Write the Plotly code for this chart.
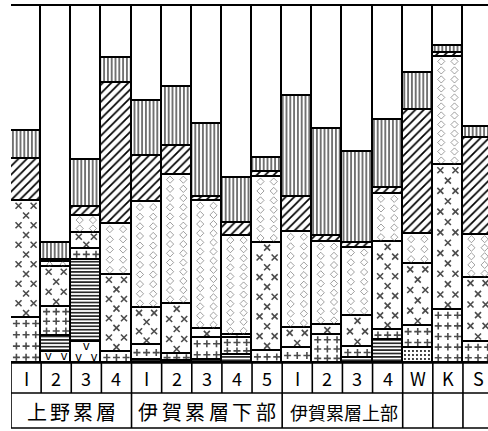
import plotly.graph_objects as go

# Sample columns and the formation groups that label them
sample_labels = ["I", "2", "3", "4", "I", "2", "3", "4", "5", "I", "2", "3", "4", "W", "K", "S"]
formation_names = ["上野累層", "伊賀累層下部", "伊賀累層上部", "", "", ""]
formation_sizes = [4, 5, 4, 1, 1, 1]

# Composition of each column (%), listed bottom to top
v_layer =        [0.0, 3.1, 5.9, 0.0, 0.0, 0.0, 0.0, 0.0, 0.0, 0.0, 0.0, 0.0, 0.0, 0.0, 0.0, 0.0]
dot_layer =      [0.0, 0.0, 0.0, 0.0, 0.0, 0.0, 0.0, 0.0, 0.0, 0.0, 0.0, 0.0, 0.0, 4.2, 0.0, 0.0]
wavy_layer =     [0.0, 4.5, 22.9, 0.0, 0.8, 0.5, 0.8, 2.2, 0.0, 0.0, 0.0, 1.4, 6.4, 0.0, 0.0, 0.0]
plus_layer =     [12.6, 8.1, 3.1, 3.1, 4.2, 2.0, 6.1, 4.7, 3.4, 4.2, 7.8, 3.1, 2.8, 6.1, 14.8, 5.9]
cross_layer =    [32.7, 11.2, 4.5, 21.5, 10.3, 14.0, 2.5, 0.8, 30.2, 5.6, 2.8, 8.7, 24.6, 17.3, 40.5, 17.9]
chevron_layer =  [0.0, 1.4, 4.7, 14.2, 29.6, 36.0, 35.8, 27.9, 18.4, 26.8, 23.2, 19.0, 13.4, 8.4, 30.2, 12.0]
diagonal_layer = [11.7, 0.6, 2.5, 39.4, 12.8, 8.1, 1.1, 3.6, 1.4, 9.8, 1.7, 1.4, 1.7, 34.6, 1.1, 27.1]
vertical_layer = [7.8, 4.7, 13.1, 7.0, 15.4, 16.5, 20.4, 12.6, 3.9, 28.2, 29.9, 25.4, 19.0, 10.3, 2.0, 3.1]
blank_layer =    [35.2, 66.4, 43.3, 14.8, 26.9, 22.9, 33.3, 48.2, 42.7, 25.4, 34.6, 41.0, 32.1, 19.1, 11.4, 34.0]

# ---- geometry -------------------------------------------------------------
W, H = 488, 431
M_L, M_R, M_T, M_B = 11, 0, 5, 68
PLOT_W = W - M_L - M_R
PLOT_H = H - M_T - M_B
COL_PX = 30.13                      # width of one column in pixels
PX_PER_PCT = PLOT_H / 100.0
X_MAX = 0.5 + PLOT_W / COL_PX
FONT = "Noto Sans CJK JP"
INK = "black"
LW = 1.6

n = len(sample_labels)
xs = list(range(1, n + 1))

layers = [
    ("v", v_layer), ("dot", dot_layer), ("wavy", wavy_layer), ("plus", plus_layer),
    ("cross", cross_layer), ("chevron", chevron_layer), ("diagonal", diagonal_layer),
    ("vertical", vertical_layer), ("blank", blank_layer),
]

bar_patterns = {
    "dot": dict(shape=".", size=4, solidity=0.18),
    "wavy": dict(shape="-", size=3.4, solidity=0.42),
    "diagonal": dict(shape="/", size=6, solidity=0.28),
    "vertical": dict(shape="|", size=3.8, solidity=0.28),
}

fig = go.Figure()

bases = {}
running = [0.0] * n
for name, vals in layers:
    bases[name] = running[:]
    pat = bar_patterns.get(name)
    marker = dict(color="white", line=dict(color=INK, width=LW))
    if pat:
        marker["pattern"] = dict(fgcolor=INK, bgcolor="white", fillmode="replace", **pat)
    fig.add_trace(go.Bar(x=xs, y=vals, width=1.0, marker=marker,
                         hoverinfo="skip", showlegend=False))
    running = [r + v for r, v in zip(running, vals)]


def scatter_marks(name, pitch_pct, cols_a, cols_b, size_px):
    """Spread symbols over every segment of one layer, rows alternating column sets."""
    px, py, ps = [], [], []
    for i, (v, b) in enumerate(zip(dict(layers)[name], bases[name])):
        if v <= 0:
            continue
        rows = max(1, round(v / pitch_pct))
        step = v / rows
        s = max(2.0, min(size_px, step * PX_PER_PCT * 0.8))
        for k in range(rows):
            for c in (cols_a if k % 2 == 0 else cols_b):
                px.append(xs[i] + c)
                py.append(b + (k + 0.5) * step)
                ps.append(s)
    return px, py, ps


# "+" symbols
x_, y_, s_ = scatter_marks("plus", 2.9, [-0.32, 0.0, 0.32], [-0.32, 0.0, 0.32], 5)
fig.add_trace(go.Scatter(x=x_, y=y_, mode="markers", hoverinfo="skip", showlegend=False,
                         marker=dict(symbol="cross-thin", size=s_, line=dict(color=INK, width=1.6))))

# "×" symbols in a staggered arrangement
x_, y_, s_ = scatter_marks("cross", 2.8, [0.0], [-0.25, 0.25], 6)
fig.add_trace(go.Scatter(x=x_, y=y_, mode="markers", hoverinfo="skip", showlegend=False,
                         marker=dict(symbol="x-thin", size=s_, line=dict(color=INK, width=1.6))))

# small open diamonds
x_, y_, s_ = scatter_marks("chevron", 2.6, [-0.22, 0.22], [-0.22, 0.22], 5.5)
fig.add_trace(go.Scatter(x=x_, y=y_, mode="markers", hoverinfo="skip", showlegend=False,
                         marker=dict(symbol="diamond-open", size=s_, color="#555",
                                     line=dict(width=0.8))))

# "v" marks, staggered so neighbouring rows do not collide
x_, y_, s_ = scatter_marks("v", 2.9, [-0.26, 0.26], [0.0], 10)
fig.add_trace(go.Scatter(x=x_, y=y_, mode="text", text=["v"] * len(x_), hoverinfo="skip",
                         showlegend=False, textfont=dict(family="DejaVu Sans", size=12, color=INK)))

# ---- table of sample numbers and formation names below the columns --------
def py_(px):
    """Pixel row (from page top) to paper y."""
    return (H - M_B - px) / PLOT_H


ROW1, ROW2 = 393, 428
shapes = [dict(type="line", xref="paper", yref="paper", x0=0, x1=1, y0=1, y1=1,
               line=dict(color=INK, width=2.2))]
for yy in (H - M_B, ROW1, ROW2):
    shapes.append(dict(type="line", xref="paper", yref="paper", x0=0, x1=1, y0=py_(yy), y1=py_(yy),
                       line=dict(color=INK, width=LW)))
for k in range(n + 1):
    shapes.append(dict(type="line", xref="x", yref="paper", x0=k + 0.5, x1=k + 0.5,
                       y0=py_(ROW1), y1=0, line=dict(color=INK, width=LW)))
edge = 0.5
shapes.append(dict(type="line", xref="x", yref="paper", x0=edge, x1=edge,
                   y0=py_(ROW2), y1=py_(ROW1), line=dict(color=INK, width=LW)))
for cnt in formation_sizes:
    edge += cnt
    shapes.append(dict(type="line", xref="x", yref="paper", x0=edge, x1=edge,
                       y0=py_(ROW2), y1=py_(ROW1), line=dict(color=INK, width=LW)))

annotations = []
for x, lab in zip(xs, sample_labels):
    annotations.append(dict(x=x, y=py_((H - M_B + ROW1) / 2), xref="x", yref="paper", text=lab,
                            showarrow=False, font=dict(family=FONT, size=18, color=INK),
                            xanchor="center", yanchor="middle"))

# (font size, character pitch in px); None pitch = set as one run of text
label_style = {"上野累層": (20, 23), "伊賀累層下部": (20, 23.5), "伊賀累層上部": (18, None)}
start = 0.5
ylab = py_((ROW1 + ROW2) / 2 + 1)
for name, cnt in zip(formation_names, formation_sizes):
    centre = start + cnt / 2
    start += cnt
    if not name:
        continue
    size, pitch_px = label_style[name]
    if pitch_px is None:
        annotations.append(dict(x=centre + 2 / COL_PX, y=ylab, xref="x", yref="paper", text=name,
                                showarrow=False, borderpad=0,
                                font=dict(family=FONT, size=size, color=INK),
                                xanchor="center", yanchor="middle"))
        continue
    pitch = pitch_px / COL_PX
    m = len(name)
    for j, ch in enumerate(name):
        annotations.append(dict(x=centre + (j - (m - 1) / 2) * pitch, y=ylab,
                                xref="x", yref="paper", text=ch, showarrow=False, borderpad=0,
                                font=dict(family=FONT, size=size, color=INK),
                                xanchor="center", yanchor="middle"))

fig.update_layout(
    width=W, height=H,
    margin=dict(l=M_L, r=M_R, t=M_T, b=M_B),
    paper_bgcolor="white", plot_bgcolor="white",
    barmode="stack", bargap=0,
    xaxis=dict(range=[0.5, X_MAX], visible=False, fixedrange=True),
    yaxis=dict(range=[0, 100], visible=False, fixedrange=True),
    shapes=shapes, annotations=annotations,
)

fig.write_html("out.html")
